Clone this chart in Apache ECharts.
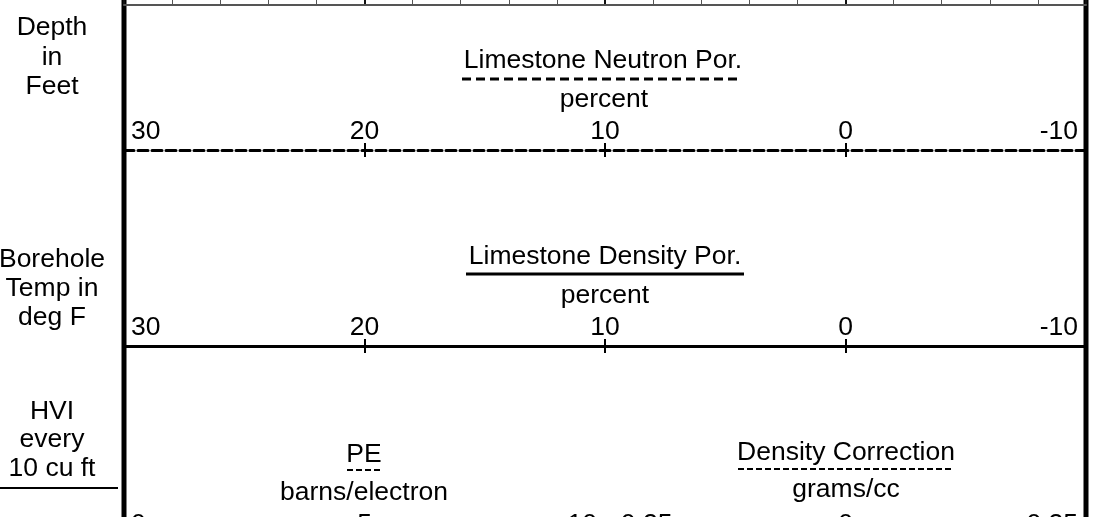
<!DOCTYPE html>
<html>
<head>
<meta charset="utf-8">
<script src="https://cdn.jsdelivr.net/npm/echarts@6/dist/echarts.min.js"></script>
<style>
html,body{margin:0;padding:0;background:#fff;}
#c{width:1094px;height:517px;}
</style>
</head>
<body>
<div id="c"></div>
<script>
// ---- data ----
var neutronRange = [-10, 30];      // Limestone Neutron Por. (percent), reversed
var neutronStep = 10;
var densityPorRange = [-10, 30];   // Limestone Density Por. (percent), reversed
var densityPorStep = 10;
var peRange = [0, 10];             // PE (barns/electron)
var peStep = 5;
var corrRange = [-0.25, 0.25];     // Density Correction (grams/cc)
var corrStep = 0.25;
var gridStep = 2;                  // header grid lines above

var depthLabel = ['Depth', 'in', 'Feet'];
var tempLabel = ['Borehole', 'Temp in', 'deg F'];
var hviLabel = ['HVI', 'every', '10 cu ft'];
var curveTitles = ['Limestone Neutron Por.', 'Limestone Density Por.', 'PE', 'Density Correction'];
var curveUnits = ['percent', 'percent', 'barns/electron', 'grams/cc'];

var FS = 26.5;
var FF = '"Liberation Sans", Arial, sans-serif';
var FONT = FS + 'px ' + FF;

function labelFmt(minV, maxV, minSide) {
  return function (v) {
    if (Math.abs(v - minV) < 1e-9) return minSide === 'left' ? '{l|' + v + '}' : '{r|' + v + '}';
    if (Math.abs(v - maxV) < 1e-9) return minSide === 'left' ? '{r|' + v + '}' : '{l|' + v + '}';
    return '{m|' + v + '}';
  };
}
var rich = {
  l: {fontSize: FS, fontFamily: FF, color: '#000', padding: [0, 0, 0, 7]},
  r: {fontSize: FS, fontFamily: FF, color: '#000', padding: [0, 8, 0, 0]},
  m: {fontSize: FS, fontFamily: FF, color: '#000'}
};

var L = 124, W = 962, H = W / 2;

function labelAxis(gridIndex, range, step, inverse, lineType) {
  return {
    type: 'value', gridIndex: gridIndex, position: 'top',
    min: range[0], max: range[1], interval: step, inverse: inverse,
    axisLine: {show: true, onZero: false, lineStyle: {color: '#000', width: 3, type: lineType}},
    axisTick: {show: true, inside: false, length: 7, lineStyle: {color: '#000', width: 2}},
    splitLine: {show: false},
    axisLabel: {
      show: true, margin: 5, showMinLabel: true, showMaxLabel: true,
      alignMinLabel: inverse ? 'right' : 'left', alignMaxLabel: inverse ? 'left' : 'right',
      formatter: labelFmt(range[0], range[1], inverse ? 'right' : 'left'), rich: rich
    }
  };
}
function lowerTickAxis(gridIndex, range, step, inverse) {
  return {
    type: 'value', gridIndex: gridIndex, position: 'bottom',
    min: range[0], max: range[1], interval: step, inverse: inverse,
    axisLine: {show: false, onZero: false},
    axisTick: {show: true, inside: true, length: 7, lineStyle: {color: '#000', width: 2}},
    splitLine: {show: false},
    axisLabel: {show: false}
  };
}

function g(left, width, top, height) {
  return {left: left, width: width, top: top, height: height, containLabel: false, outerBoundsMode: 'none'};
}
var grids = [
  g(L, W, -20, 25),     // 0 header grid above
  g(L, W, 150, 7),      // 1 neutron
  g(L, W, 346, 7),      // 2 density por
  g(L, H, 543, 7),      // 3 PE
  g(L + H, H, 543, 7)   // 4 density correction
];

var xAxes = [
  {
    type: 'value', gridIndex: 0, position: 'bottom', min: neutronRange[0], max: neutronRange[1],
    interval: neutronStep, inverse: true,
    axisLine: {show: true, onZero: false, lineStyle: {color: '#555', width: 2}},
    axisTick: {show: false}, axisLabel: {show: false},
    splitLine: {show: true, lineStyle: {color: '#111', width: 2}},
    minorTick: {show: true, splitNumber: neutronStep / gridStep, length: 0},
    minorSplitLine: {show: true, lineStyle: {color: '#555', width: 1}}
  },
  labelAxis(1, neutronRange, neutronStep, true, [10, 4]),
  lowerTickAxis(1, neutronRange, neutronStep, true),
  labelAxis(2, densityPorRange, densityPorStep, true, 'solid'),
  lowerTickAxis(2, densityPorRange, densityPorStep, true),
  labelAxis(3, peRange, peStep, false, 'solid'),
  labelAxis(4, corrRange, corrStep, false, 'solid')
];

var yAxes = grids.map(function (gg, i) {
  return {type: 'value', gridIndex: i, show: false, min: 0, max: 1};
});

function txt(x, y, text, lh) {
  return {type: 'text', silent: true, style: {
    x: x, y: y, text: text, font: FONT, fill: '#000',
    textAlign: 'center', textVerticalAlign: 'middle', align: 'center', verticalAlign: 'middle',
    lineHeight: lh || FS
  }};
}
function hline(x1, x2, y, w, dash) {
  return {type: 'line', silent: true, shape: {x1: x1, y1: y, x2: x2, y2: y},
    style: {stroke: '#000', lineWidth: w, lineDash: dash || null}};
}

var graphics = [
  txt(52, 57.5, depthLabel.join('\n'), 29.5),
  txt(52, 289, tempLabel.join('\n'), 29),
  txt(52, 440, hviLabel.join('\n'), 28.5),
  hline(0, 118, 488, 2),
  txt(603, 61, curveTitles[0]),
  hline(462, 741, 79, 3, [9, 5]),
  txt(604, 100, curveUnits[0]),
  txt(605, 257, curveTitles[1]),
  hline(466, 744, 274, 3),
  txt(605, 296, curveUnits[1]),
  txt(364, 455, curveTitles[2]),
  hline(347, 383, 470, 2, [6, 3]),
  txt(364, 493, curveUnits[2]),
  txt(846, 453, curveTitles[3]),
  hline(738, 954, 469, 2, [6, 3]),
  txt(846, 490, curveUnits[3]),
  {type: 'line', silent: true, shape: {x1: 124, y1: 0, x2: 124, y2: 517}, style: {stroke: '#000', lineWidth: 5}},
  {type: 'line', silent: true, shape: {x1: 1086, y1: 0, x2: 1086, y2: 517}, style: {stroke: '#000', lineWidth: 5}}
];

var chart = echarts.init(document.getElementById('c'), null, {renderer: 'canvas'});
chart.setOption({
  animation: false,
  backgroundColor: '#fff',
  grid: grids,
  xAxis: xAxes,
  yAxis: yAxes,
  series: [],
  graphic: graphics
});
</script>
</body>
</html>
